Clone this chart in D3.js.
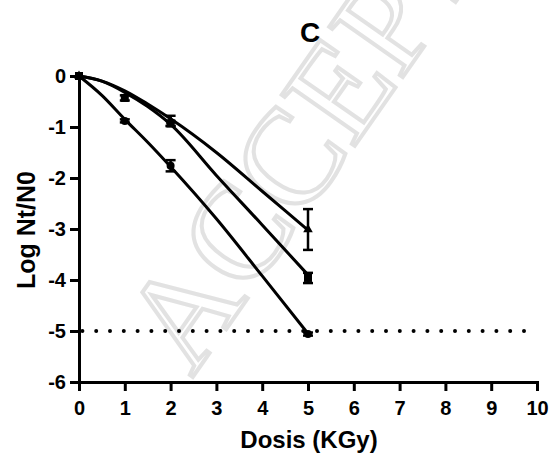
<!DOCTYPE html>
<html>
    <head>
        <meta charset="utf-8">
        <style>
            body { margin: 0; background: #fff; }
            text { font-family: "Liberation Sans", Arial, sans-serif; font-weight: bold; }
            .axis path, .axis line { stroke: #000; stroke-width: 3px; }
            .axis text { font-size: 20px; fill: #000; }
        </style>
    </head>
    <body>
        <svg></svg>
        <script src="https://d3js.org/d3.v7.min.js"></script>
        <script>
            // chart data
            const xTicks = [0, 1, 2, 3, 4, 5, 6, 7, 8, 9, 10];
            const yTicks = [0, -1, -2, -3, -4, -5, -6];
            const limit = -5;

            // measured points: dose, mean, error
            const circles   = [[0, 0, 0], [1, -0.88, 0.03], [2, -1.76, 0.11], [5, -5.06, 0.03]];
            const squares   = [[0, 0, 0], [1, -0.43, 0.05], [2, -0.93, 0.05], [5, -3.96, 0.1]];
            const triangles = [[0, 0, 0], [2, -0.88, 0.1], [5, -3.01, 0.4]];

            // fitted curves
            const fitCircles   = [[0, 0], [0.5, -0.38], [1, -0.85], [1.5, -1.3], [2, -1.78], [3, -2.8], [4, -3.92], [5, -5.05]];
            const fitSquares   = [[0, 0], [0.5, -0.1], [1, -0.32], [1.5, -0.6], [2, -0.95], [3, -1.95], [4, -2.92], [5, -3.9]];
            const fitTriangles = [[0, 0], [0.5, -0.1], [1, -0.29], [1.5, -0.55], [2, -0.84], [3, -1.5], [4, -2.26], [5, -3.02]];

            const width = 553, height = 457;
            const margin = {left: 79, right: 16, top: 76, bottom: 75};

            const svg = d3.select("svg")
                .attr("width", width)
                .attr("height", height);

            // watermark
            svg.append("text")
                .attr("transform", "translate(192,378) rotate(-55)")
                .style("font-family", "'Liberation Serif', 'Times New Roman', serif")
                .style("font-weight", "normal")
                .style("font-size", "136px")
                .attr("fill", "none")
                .attr("stroke", "#e2e2e2")
                .attr("stroke-width", 4)
                .text("ACCEPTED");

            const x = d3.scaleLinear().domain([0, 10]).range([margin.left, width - margin.right]);
            const y = d3.scaleLinear().domain([-6, 0]).range([height - margin.bottom, margin.top]);

            // x axis
            svg.append("g")
                .attr("class", "axis")
                .attr("transform", "translate(0," + y(-6) + ")")
                .call(d3.axisBottom(x).tickValues(xTicks).tickSize(9).tickSizeOuter(0).tickPadding(10)
                    .tickFormat(function(d) { return String(d); }));

            // y axis
            svg.append("g")
                .attr("class", "axis")
                .attr("transform", "translate(" + x(0) + ",0)")
                .call(d3.axisLeft(y).tickValues(yTicks).tickSize(9).tickSizeOuter(0).tickPadding(4)
                    .tickFormat(function(d) { return String(d); }));

            svg.selectAll(".axis path").attr("stroke-linecap", "square");

            // dotted detection limit
            svg.append("line")
                .attr("x1", x(0)).attr("x2", x(10))
                .attr("y1", y(limit)).attr("y2", y(limit))
                .attr("stroke", "#000")
                .attr("stroke-width", 4)
                .attr("stroke-linecap", "round")
                .attr("stroke-dasharray", "0,13.8")
                .attr("stroke-dashoffset", 10.4);

            // fitted curves
            const line = d3.line()
                .x(function(d) { return x(d[0]); })
                .y(function(d) { return y(d[1]); })
                .curve(d3.curveMonotoneX);

            [fitCircles, fitSquares, fitTriangles].forEach(function(fit) {
                svg.append("path")
                    .datum(fit)
                    .attr("d", line)
                    .attr("fill", "none")
                    .attr("stroke", "#000")
                    .attr("stroke-width", 3);
            });

            // error bars
            function errorBars(data) {
                const g = svg.append("g").attr("stroke", "#000").attr("stroke-width", 2.5);
                data.filter(function(d) { return d[2] > 0; }).forEach(function(d) {
                    const cx = x(d[0]), top = y(d[1] + d[2]), bottom = y(d[1] - d[2]);
                    g.append("line").attr("x1", cx).attr("x2", cx).attr("y1", top).attr("y2", bottom);
                    g.append("line").attr("x1", cx - 5).attr("x2", cx + 5).attr("y1", top).attr("y2", top);
                    g.append("line").attr("x1", cx - 5).attr("x2", cx + 5).attr("y1", bottom).attr("y2", bottom);
                });
            }
            errorBars(circles);
            errorBars(squares);
            errorBars(triangles);

            // markers
            svg.selectAll(".circle")
                .data(circles)
                .join("circle")
                .attr("cx", function(d) { return x(d[0]); })
                .attr("cy", function(d) { return y(d[1]); })
                .attr("r", 4);

            svg.selectAll(".square")
                .data(squares)
                .join("rect")
                .attr("x", function(d) { return x(d[0]) - 4; })
                .attr("y", function(d) { return y(d[1]) - 4; })
                .attr("width", 8)
                .attr("height", 8);

            svg.selectAll(".triangle")
                .data(triangles)
                .join("path")
                .attr("d", d3.symbol().type(d3.symbolTriangle).size(40))
                .attr("transform", function(d) { return "translate(" + x(d[0]) + "," + y(d[1]) + ")"; });

            // title and labels
            svg.append("text")
                .attr("x", 310).attr("y", 42)
                .attr("text-anchor", "middle")
                .style("font-size", "28px")
                .text("C");

            svg.append("text")
                .attr("x", 309).attr("y", 448)
                .attr("text-anchor", "middle")
                .style("font-size", "24px")
                .text("Dosis (KGy)");

            svg.append("text")
                .attr("transform", "translate(35,230) rotate(-90)")
                .attr("text-anchor", "middle")
                .style("font-size", "25px")
                .text("Log Nt/N0");
        </script>
    </body>
</html>
